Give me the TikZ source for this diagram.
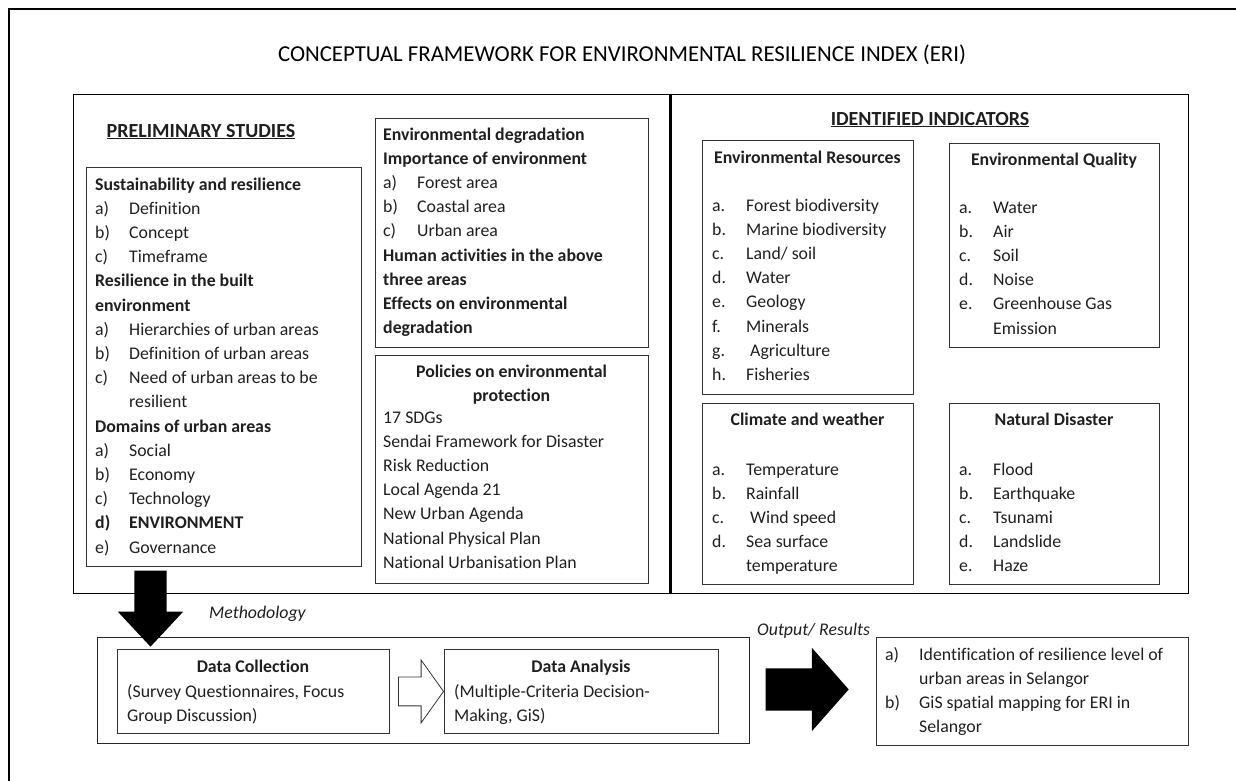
\documentclass[tikz,border=0pt]{standalone}
\usepackage{fontspec}
\setmainfont[Ligatures=NoCommon]{Carlito}
\usepackage{tikz}
\usetikzlibrary{shapes.arrows}
\newcommand{\bodyfont}{\fontsize{17.8pt}{24.2pt}\selectfont}
\newcommand{\headfont}{\fontsize{20pt}{24pt}\selectfont\bfseries}
\newcommand{\titlefont}{\fontsize{22.8pt}{28pt}\selectfont}
\newcommand{\itm}[2]{\makebox[34pt][l]{#1}#2}
\newcommand{\boxlines}[2]{\parbox[t]{#1}{\raggedright #2}}
\tikzset{
  frame/.style={line width=2pt,draw=black},
  mainbox/.style={draw=black,line width=1pt,anchor=north west,inner sep=0pt},
  panel/.style={draw=black!80,line width=0.9pt,anchor=north west,inner sep=0pt},
  divider/.style={line width=3pt,draw=black},
  txt/.style={anchor=base west,inner sep=0pt,font=\bodyfont,text=black!88},
  ctxt/.style={anchor=base,inner sep=0pt,font=\bodyfont\bfseries,text=black!88},
  heading/.style={anchor=base,inner sep=0pt,font=\headfont,text=black!88},
  tag/.style={anchor=base west,inner sep=0pt,font=\bodyfont\itshape,text=black!88},
  blockarr/.style={single arrow,inner xsep=0pt,anchor=tip,single arrow head indent=0pt},
}

\begin{document}
\begin{tikzpicture}[x=1pt,y=1pt]
  \useasboundingbox (0,0) rectangle (1236,-781);
  \draw[frame] (9,-781) -- (9,-9) -- (1236,-9);
  \node[anchor=base,inner sep=0pt,font=\titlefont] (title) at (622,-62) {CONCEPTUAL FRAMEWORK FOR ENVIRONMENTAL RESILIENCE INDEX (ERI)};

  % upper frame: studies on the left, indicators on the right
  \node[mainbox,minimum width=1115pt,minimum height=499pt] (studies) at (73,-94) {};
  \coordinate (split) at (670,-94);
  \draw[divider] (split) -- (split |- studies.south);

  \node[heading] (prelim) at (201,-137) {\underline{PRELIMINARY STUDIES}};
  \node[panel,minimum width=275pt,minimum height=399pt] (sust) at (86,-167) {};
  \node[txt] (susttxt) at (95,-190) {\boxlines{260pt}{%
    \textbf{Sustainability and resilience}\\
    \itm{a)}{Definition}\\
    \itm{b)}{Concept}\\
    \itm{c)}{Timeframe}\\
    \textbf{Resilience in the built}\\
    \textbf{environment}\\
    \itm{a)}{Hierarchies of urban areas}\\
    \itm{b)}{Definition of urban areas}\\
    \itm{c)}{Need of urban areas to be}\\
    \itm{}{resilient}\\
    \textbf{Domains of urban areas}\\
    \itm{a)}{Social}\\
    \itm{b)}{Economy}\\
    \itm{c)}{Technology}\\
    \textbf{\itm{d)}{ENVIRONMENT}}\\
    \itm{e)}{Governance}}};

  \node[panel,minimum width=273pt,minimum height=229pt] (degr) at (375,-118) {};
  \node[txt] (degrtxt) at (383,-140) {\boxlines{260pt}{%
    \textbf{Environmental degradation}\\
    \textbf{Importance of environment}\\
    \itm{a)}{Forest area}\\
    \itm{b)}{Coastal area}\\
    \itm{c)}{Urban area}\\
    \textbf{Human activities in the above}\\
    \textbf{three areas}\\
    \textbf{Effects on environmental}\\
    \textbf{degradation}}};

  \node[panel,minimum width=273pt,minimum height=228pt] (policy) at (375,-355) {};
  \node[ctxt] (policytitle) at (511.5,-377) {\parbox[t]{260pt}{\centering Policies on environmental\\ protection}};
  \node[txt] (policytxt) at (383,-423) {\boxlines{260pt}{%
    17 SDGs\\
    Sendai Framework for Disaster\\
    Risk Reduction\\
    Local Agenda 21\\
    New Urban Agenda\\
    National Physical Plan\\
    National Urbanisation Plan}};

  \node[heading] (indic) at (930,-125) {\underline{IDENTIFIED INDICATORS}};
  \node[panel,minimum width=211pt,minimum height=254pt] (res) at (702,-140) {};
  \node[ctxt] (restitle) at (807.5,-163) {Environmental Resources};
  \node[txt] (restxt) at (712,-211) {\boxlines{195pt}{%
    \itm{a.}{Forest biodiversity}\\
    \itm{b.}{Marine biodiversity}\\
    \itm{c.}{Land/ soil}\\
    \itm{d.}{Water}\\
    \itm{e.}{Geology}\\
    \itm{f.}{Minerals}\\
    \itm{g.}{\hspace{4pt}Agriculture}\\
    \itm{h.}{Fisheries}}};

  \node[panel,minimum width=210pt,minimum height=204pt] (qual) at (949,-143) {};
  \node[ctxt] (qualtitle) at (1054,-165) {Environmental Quality};
  \node[txt] (qualtxt) at (959,-213) {\boxlines{195pt}{%
    \itm{a.}{Water}\\
    \itm{b.}{Air}\\
    \itm{c.}{Soil}\\
    \itm{d.}{Noise}\\
    \itm{e.}{Greenhouse Gas}\\
    \itm{}{Emission}}};

  \node[panel,minimum width=211pt,minimum height=181pt] (clim) at (702,-403) {};
  \node[ctxt] (climtitle) at (807.5,-425) {Climate and weather};
  \node[txt] (climtxt) at (712,-475) {\boxlines{195pt}{%
    \itm{a.}{Temperature}\\
    \itm{b.}{Rainfall}\\
    \itm{c.}{\hspace{4pt}Wind speed}\\
    \itm{d.}{Sea surface}\\
    \itm{}{temperature}}};

  \node[panel,minimum width=210pt,minimum height=181pt] (disa) at (949,-403) {};
  \node[ctxt] (disatitle) at (1054,-425) {Natural Disaster};
  \node[txt] (disatxt) at (959,-475) {\boxlines{195pt}{%
    \itm{a.}{Flood}\\
    \itm{b.}{Earthquake}\\
    \itm{c.}{Tsunami}\\
    \itm{d.}{Landslide}\\
    \itm{e.}{Haze}}};

  % methodology row
  \node[tag] (methlabel) at (209,-618) {Methodology};
  \node[mainbox,draw=black!85,line width=0.9pt,minimum width=652pt,minimum height=106pt] (method) at (97,-637) {};
  \node[panel,minimum width=272pt,minimum height=84pt] (dc) at (117,-649) {};
  \node[ctxt] (dctitle) at (253,-672) {Data Collection};
  \node[txt] (dctxt) at (127,-697) {\boxlines{260pt}{%
    (Survey Questionnaires, Focus\\
    Group Discussion)}};
  \node[panel,minimum width=274pt,minimum height=84pt] (da) at (444,-649) {};
  \node[ctxt] (datitle) at (581,-672) {Data Analysis};
  \node[txt] (datxt) at (454,-697) {\boxlines{260pt}{%
    (Multiple-Criteria Decision-\\
    Making, GiS)}};

  \node[tag] (outlabel) at (757,-635) {Output/ Results};
  \node[panel,minimum width=312pt,minimum height=108pt] (out) at (876,-637) {};
  \node[txt] (outtxt) at (885,-660) {\boxlines{300pt}{%
    \itm{a)}{Identification of resilience level of}\\
    \itm{}{urban areas in Selangor}\\
    \itm{b)}{GiS spatial mapping for ERI in}\\
    \itm{}{Selangor}}};

  % block arrows
  \node[blockarr,fill=black,rotate=-90,inner ysep=16pt,minimum height=76pt,
    single arrow head extend=16.5pt,single arrow tip angle=86] (tomethod) at ([xshift=33.5pt,yshift=2pt]dc.north west) {};
  \node[blockarr,draw=black!80,line width=0.8pt,fill=white,inner ysep=14pt,minimum height=45pt,
    single arrow head extend=17pt,single arrow tip angle=109] (toanalysis) at (da.west) {};
  \node[blockarr,fill=black,inner ysep=21pt,minimum height=83pt,
    single arrow head extend=20.5pt,single arrow tip angle=97] (tooutput) at ([xshift=-27pt,yshift=2pt]out.west) {};
\end{tikzpicture}
\end{document}
